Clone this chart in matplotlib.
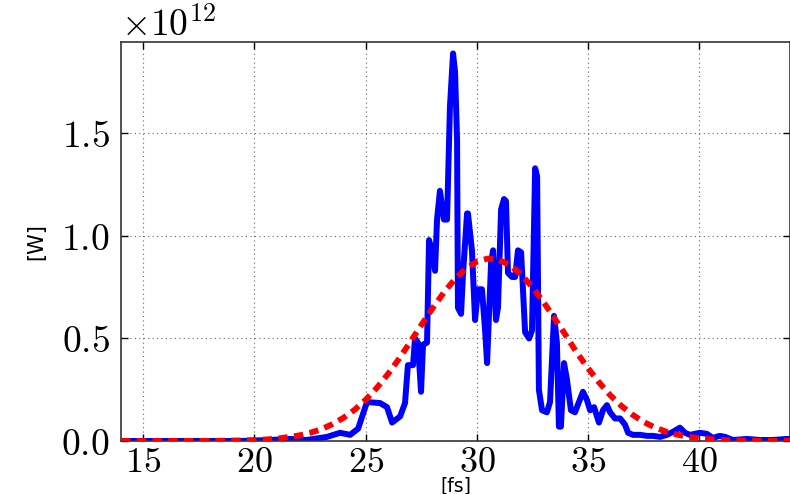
import matplotlib
matplotlib.use("Agg")
import matplotlib.pyplot as plt
from matplotlib.ticker import FuncFormatter

plt.rcParams["mathtext.fontset"] = "cm"

# Pulse power [x1e12 W] versus time [fs]
pulse_t_fs = [
    14.0, 17.55, 19.35, 20.70, 21.60, 22.36, 23.26, 23.85, 24.30, 24.66,
    25.06, 25.65, 25.96, 26.19, 26.55, 26.77, 26.90, 27.13, 27.22, 27.35,
    27.49, 27.58, 27.76, 27.85, 28.00, 28.12, 28.21, 28.34, 28.52, 28.66,
    28.79, 28.93, 29.02, 29.11, 29.15, 29.29, 29.38, 29.56, 29.60, 29.78,
    29.92, 30.05, 30.23, 30.37, 30.46, 30.64, 30.73, 30.86, 30.95, 31.09,
    31.22, 31.31, 31.40, 31.58, 31.72, 31.85, 31.99, 32.17, 32.35, 32.48,
    32.62, 32.71, 32.79, 32.93, 33.15, 33.29, 33.47, 33.60, 33.69, 33.78,
    33.92, 34.05, 34.23, 34.41, 34.59, 34.77, 34.95, 35.09, 35.27, 35.49,
    35.67, 35.85, 35.99, 36.21, 36.44, 36.66, 36.80, 37.02, 37.34, 37.65,
    37.92, 38.24, 38.55, 38.82, 39.13, 39.36, 39.58, 40.03, 40.34, 40.61,
    40.92, 41.16, 41.51, 42.14, 42.73, 43.31, 43.94, 44.08,
]
pulse_power = [
    0.0, 0.0, 0.0, 0.005, 0.01, 0.005, 0.02, 0.04, 0.03, 0.06,
    0.19, 0.185, 0.165, 0.09, 0.12, 0.185, 0.37, 0.37, 0.50, 0.48,
    0.24, 0.47, 0.48, 0.98, 0.92, 0.83, 1.08, 1.22, 1.08, 1.08,
    1.63, 1.89, 1.80, 1.47, 0.65, 0.62, 0.82, 1.11, 1.11, 0.93,
    0.59, 0.74, 0.74, 0.54, 0.38, 0.87, 0.93, 0.59, 0.65, 1.13,
    1.18, 1.17, 0.82, 0.80, 0.80, 0.93, 0.92, 0.53, 0.50, 0.54,
    1.33, 1.29, 0.25, 0.15, 0.14, 0.19, 0.61, 0.48, 0.07, 0.07,
    0.38, 0.30, 0.15, 0.14, 0.19, 0.24, 0.20, 0.15, 0.165, 0.09,
    0.15, 0.175, 0.14, 0.11, 0.11, 0.08, 0.04, 0.03, 0.03, 0.025,
    0.025, 0.02, 0.03, 0.045, 0.065, 0.04, 0.03, 0.04, 0.035, 0.015,
    0.025, 0.02, 0.005, 0.01, 0.005, 0.005, 0.01, 0.01,
]

# Gaussian envelope fit [x1e12 W]
fit_t_fs = [
    14.0, 18.0, 20.0, 21.0, 22.0, 22.5, 23.0, 23.5, 24.0, 24.5,
    25.0, 25.5, 26.0, 26.5, 27.0, 27.5, 28.0, 28.5, 29.0, 29.5,
    30.0, 30.5, 31.0, 31.5, 32.0, 32.5, 33.0, 33.5, 34.0, 34.5,
    35.0, 35.5, 36.0, 36.5, 37.0, 37.5, 38.0, 38.5, 39.0, 39.5,
    40.0, 40.5, 41.0, 42.0, 44.08,
]
fit_power = [
    0.0, 0.0005, 0.004, 0.011, 0.027, 0.040, 0.057, 0.082, 0.113, 0.152,
    0.201, 0.259, 0.326, 0.401, 0.482, 0.565, 0.646, 0.722, 0.788, 0.840,
    0.875, 0.890, 0.883, 0.857, 0.811, 0.750, 0.677, 0.597, 0.515, 0.430,
    0.355, 0.285, 0.223, 0.171, 0.128, 0.093, 0.066, 0.046, 0.031, 0.021,
    0.013, 0.009, 0.005, 0.002, 0.0,
]

x_ticks = [15, 20, 25, 30, 35, 40]
y_ticks = [0.0, 0.5, 1.0, 1.5]

fig = plt.figure(figsize=(7.9, 4.94), dpi=100)
ax = fig.add_axes([121 / 790, 53 / 494, 669 / 790, 399 / 494])

ax.plot(fit_t_fs, fit_power, color="red", lw=4.2, linestyle=(0, (1.6, 1.1)), zorder=3)
ax.plot(pulse_t_fs, pulse_power, color="blue", lw=4.3, zorder=2)

ax.set_xlim(14.0, 44.08)
ax.set_ylim(0.0, 1.946)
ax.set_xticks(x_ticks)
ax.set_yticks(y_ticks)
ax.xaxis.set_major_formatter(FuncFormatter(lambda v, _: rf"${v:.0f}$"))
ax.yaxis.set_major_formatter(FuncFormatter(lambda v, _: rf"${v:.1f}$"))

ax.tick_params(direction="in", top=True, right=True, length=5, width=1,
               labelsize=27, colors="black")
ax.tick_params(axis="x", pad=3, labelsize=26)
ax.tick_params(axis="y", pad=8)
ax.grid(True, color="0.4", lw=0.8, linestyle=(0, (1, 3)))

for sp in ax.spines.values():
    sp.set_color("0.2")
    sp.set_linewidth(1.2)

ax.text(0.0, 0.995, r"$\times 10^{12}$", transform=ax.transAxes,
        fontsize=27, ha="left", va="bottom")

ax.set_ylabel("[W]", fontsize=15, family="DejaVu Sans")
ax.set_xlabel("[fs]", fontsize=13.5, family="DejaVu Sans")
ax.yaxis.set_label_coords(-0.112, 0.5)
ax.xaxis.set_label_coords(0.5, -0.089)

fig.savefig("out.png", dpi=100)
